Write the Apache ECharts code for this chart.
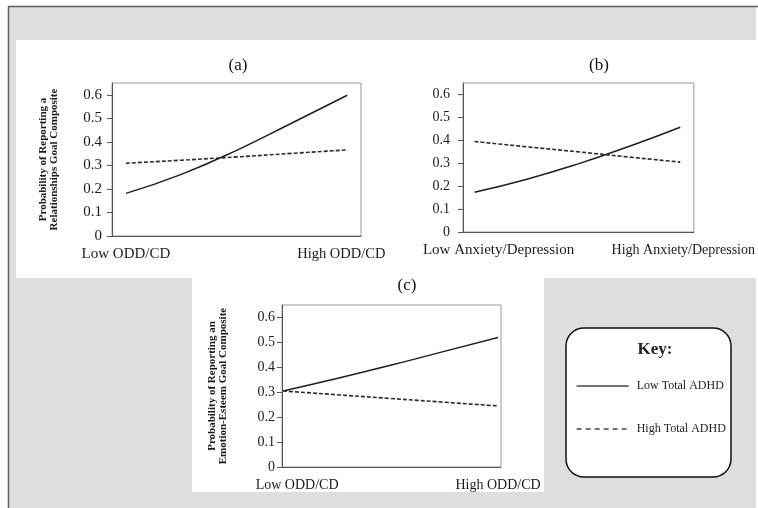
<!DOCTYPE html>
<html>
<head>
<meta charset="utf-8">
<script src="https://cdn.jsdelivr.net/npm/echarts@6/dist/echarts.min.js"></script>
<style>html,body{margin:0;padding:0;background:#fff;}#c{width:758px;height:508px;}</style>
</head>
<body>
<div id="c"></div>
<script>
// ---- data ----
const xPos = [0, 0.25, 0.5, 0.75, 1];
const catA = ['Low ODD/CD', 'High ODD/CD'];
const catB = ['Low Anxiety/Depression', 'High Anxiety/Depression'];
const catC = ['Low ODD/CD', 'High ODD/CD'];
const yTicks = [0, 0.1, 0.2, 0.3, 0.4, 0.5, 0.6];
const aLow  = [0.181, 0.262, 0.364, 0.480, 0.598];
const aHigh = [0.309, 0.322, 0.336, 0.351, 0.366];
const bLow  = [0.173, 0.229, 0.296, 0.373, 0.457];
const bHigh = [0.395, 0.372, 0.350, 0.327, 0.305];
const cLow  = [0.305, 0.355, 0.408, 0.464, 0.520];
const cHigh = [0.305, 0.290, 0.275, 0.260, 0.245];
const seriesNames = ['Low Total ADHD', 'High Total ADHD'];
const panelTitles = ['(a)', '(b)', '(c)'];
const yNames = ['Probability of Reporting a\nRelationships Goal Composite', '', 'Probability of Reporting an\nEmotion-Esteem Goal Composite'];

const FONT = '"Liberation Serif", "Times New Roman", serif';
const pts = arr => arr.map((v, i) => [xPos[i], v]);

const chart = echarts.init(document.getElementById('c'), null, {renderer: 'canvas'});

function xAxisFor(gi, cats, min, max, lpad, rpad, fs, fsR) {
  return {
    type: 'value', gridIndex: gi, min: min, max: max,
    splitLine: {show: false},
    axisTick: {show: false},
    axisLine: {show: true, onZero: false, lineStyle: {color: '#555', width: 1}},
    axisLabel: {
      customValues: [0, 1], margin: 11,
      color: '#1a1a1a', fontFamily: FONT, fontSize: fs,
      formatter: v => v === 0 ? '{l|' + cats[0] + '}' : (v === 1 ? '{r|' + cats[1] + '}' : ''),
      rich: {
        l: {fontFamily: FONT, fontSize: fs, color: '#1a1a1a', padding: [0, 0, 0, lpad]},
        r: {fontFamily: FONT, fontSize: fsR, color: '#1a1a1a', padding: [0, rpad[1], 0, rpad[0]]}
      }
    }
  };
}
function yAxisFor(gi, name, margin, fs, gap) {
  return {
    type: 'value', gridIndex: gi, min: 0, max: 0.65,
    name: name, nameLocation: 'middle', nameRotate: 90, nameGap: gap,
    nameTextStyle: {fontFamily: FONT, fontSize: 11, fontWeight: 'bold', color: '#1a1a1a', lineHeight: 11},
    splitLine: {show: false},
    axisLine: {show: true, onZero: false, lineStyle: {color: '#555', width: 1}},
    axisTick: {show: true, customValues: yTicks, length: 5, lineStyle: {color: '#555'}},
    axisLabel: {customValues: yTicks, margin: margin, color: '#1a1a1a', fontFamily: FONT, fontSize: fs,
      formatter: v => (v === 0 ? '0' : v.toFixed(1))}
  };
}
function lineSeries(gi, name, arr, dashed) {
  return {
    type: 'line', name: name, xAxisIndex: gi, yAxisIndex: gi,
    data: pts(arr), smooth: true, symbol: 'none', silent: true,
    color: '#222',
    lineStyle: dashed ? {color: '#2a2a2a', width: 1.6, type: [4, 2]} : {color: '#1e1e1e', width: 1.5, type: 'solid'},
    z: 5
  };
}

const option = {
  animation: false,
  backgroundColor: '#fff',
  graphic: [
    {type: 'rect', z: -20, shape: {x: 8, y: 7, width: 748, height: 501}, style: {fill: '#dedede'}},
    {type: 'line', z: -19, shape: {x1: 8.5, y1: 6, x2: 8.5, y2: 508}, style: {stroke: '#5e5e5e', lineWidth: 1.5}},
    {type: 'line', z: -19, shape: {x1: 8, y1: 6.5, x2: 758, y2: 6.5}, style: {stroke: '#5e5e5e', lineWidth: 1.5}},
    {type: 'rect', z: -18, shape: {x: 16, y: 40, width: 742, height: 238}, style: {fill: '#fff'}},
    {type: 'rect', z: -18, shape: {x: 192, y: 277, width: 352, height: 215}, style: {fill: '#fff'}},
    {type: 'rect', z: -17, shape: {x: 566, y: 328, width: 165, height: 149, r: 18}, style: {fill: '#fff', stroke: '#111', lineWidth: 1.5}}
  ],
  title: [
    {text: panelTitles[0], left: 233, top: 52, textAlign: 'center', textStyle: {fontFamily: FONT, fontSize: 17, fontWeight: 'normal', color: '#111'}},
    {text: panelTitles[1], left: 594, top: 52, textAlign: 'center', textStyle: {fontFamily: FONT, fontSize: 17, fontWeight: 'normal', color: '#111'}},
    {text: panelTitles[2], left: 402, top: 272, textAlign: 'center', textStyle: {fontFamily: FONT, fontSize: 17, fontWeight: 'normal', color: '#111'}},
    {text: 'Key:', left: 650, top: 336, textAlign: 'center', textStyle: {fontFamily: FONT, fontSize: 17, fontWeight: 'bold', color: '#222'}}
  ],
  legend: {
    orient: 'vertical', left: 571, top: 375, itemWidth: 52, itemHeight: 14, itemGap: 31,
    selectedMode: false,
    itemStyle: {opacity: 0},
    data: [
      {name: seriesNames[0], itemStyle: {opacity: 0}, lineStyle: {color: '#444', width: 1.3, type: 'solid'}},
      {name: seriesNames[1], itemStyle: {opacity: 0}, lineStyle: {color: '#444', width: 1.3, type: [5, 4]}}
    ],
    textStyle: {fontFamily: FONT, fontSize: 12, color: '#222', padding: [0, 0, 0, 3]}
  },
  grid: [
    {left: 112, top: 83, width: 249, height: 153, show: true, borderColor: '#999', borderWidth: 1, containLabel: false},
    {left: 463, top: 83, width: 233, height: 149, show: true, borderColor: '#999', borderWidth: 1, containLabel: false},
    {left: 282, top: 305, width: 219, height: 162, show: true, borderColor: '#999', borderWidth: 1, containLabel: false}
  ],
  xAxis: [
    xAxisFor(0, catA, -0.063, 1.062, 0, [0, 12], 15, 14.5),
    xAxisFor(1, catB, -0.056, 1.066, 48, [6, 0], 15, 14),
    xAxisFor(2, catC, -0.005, 1.014, 28, [0, 0], 14, 14)
  ],
  yAxis: [
    yAxisFor(0, yNames[0], 10, 15, 52),
    yAxisFor(1, yNames[1], 13, 14, 40),
    yAxisFor(2, yNames[2], 7, 14, 53)
  ],
  series: [
    lineSeries(0, seriesNames[0], aLow, false),
    lineSeries(0, seriesNames[1], aHigh, true),
    lineSeries(1, seriesNames[0], bLow, false),
    lineSeries(1, seriesNames[1], bHigh, true),
    lineSeries(2, seriesNames[0], cLow, false),
    lineSeries(2, seriesNames[1], cHigh, true)
  ]
};
chart.setOption(option);
</script>
</body>
</html>
